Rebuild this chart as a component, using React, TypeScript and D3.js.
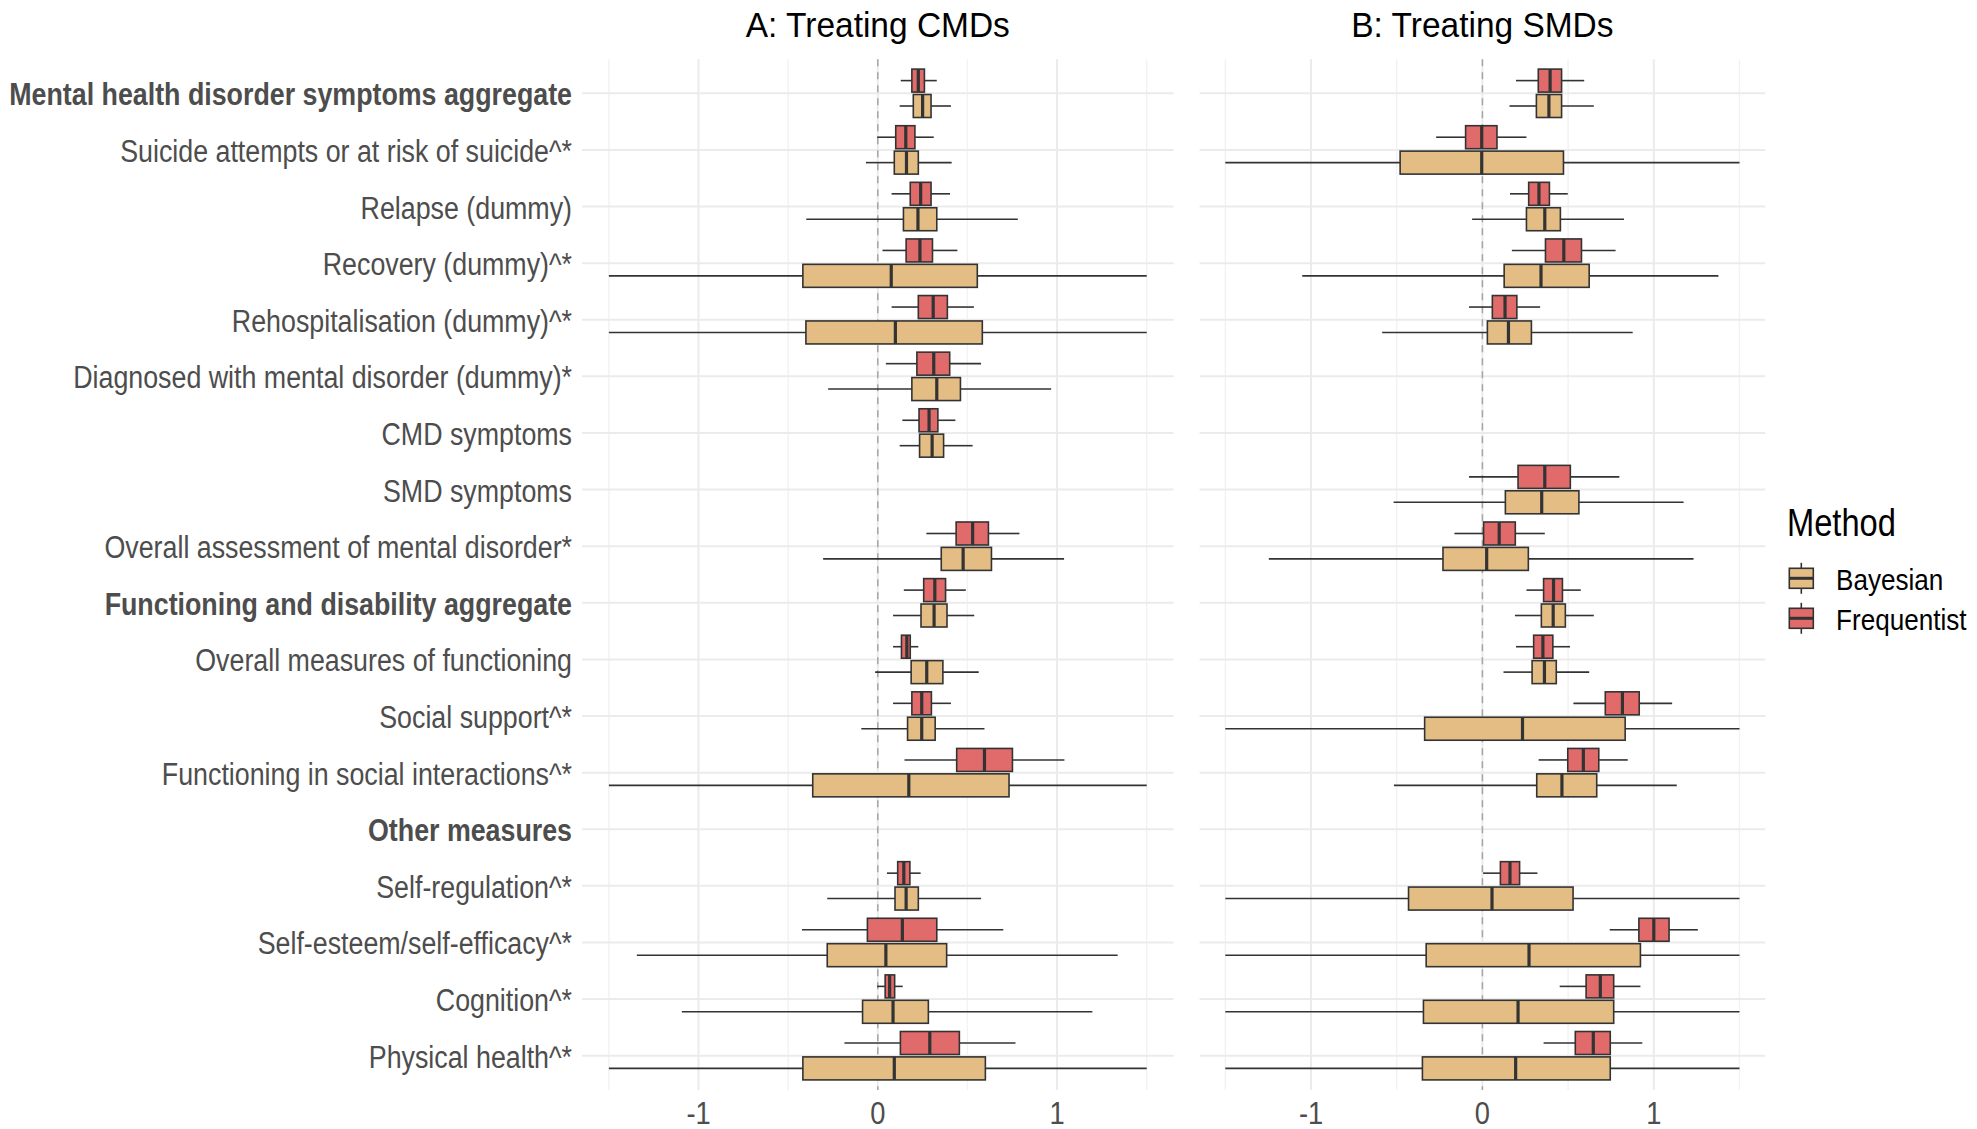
import React from "react";
import * as d3 from "d3";

type Box = [number, number, number, number, number] | null;

const categories: string[] = [
  "Mental health disorder symptoms aggregate",
  "Suicide attempts or at risk of suicide^*",
  "Relapse (dummy)",
  "Recovery (dummy)^*",
  "Rehospitalisation (dummy)^*",
  "Diagnosed with mental disorder (dummy)*",
  "CMD symptoms",
  "SMD symptoms",
  "Overall assessment of mental disorder*",
  "Functioning and disability aggregate",
  "Overall measures of functioning",
  "Social support^*",
  "Functioning in social interactions^*",
  "Other measures",
  "Self-regulation^*",
  "Self-esteem/self-efficacy^*",
  "Cognition^*",
  "Physical health^*",
];

const boldCategories: string[] = [
  "Mental health disorder symptoms aggregate",
  "Functioning and disability aggregate",
  "Other measures",
];

const methods: string[] = ["Frequentist", "Bayesian"];
const methodColors: string[] = ["#E16A6A", "#E3BD84"];
const legendOrder: string[] = ["Bayesian", "Frequentist"];

const panelTitles: string[] = ["A: Treating CMDs", "B: Treating SMDs"];
const xTicks: number[] = [-1, 0, 1];
const xMinor: number[] = [-1.5, -0.5, 0.5, 1.5];

// [lower whisker, Q1, median, Q3, upper whisker]
const cmdFrequentist: Box[] = [
  [0.128, 0.19, 0.226, 0.26, 0.329],
  [-0.004, 0.1, 0.156, 0.207, 0.312],
  [0.077, 0.181, 0.239, 0.297, 0.403],
  [0.026, 0.158, 0.235, 0.305, 0.444],
  [0.077, 0.226, 0.309, 0.388, 0.536],
  [0.045, 0.218, 0.312, 0.401, 0.576],
  [0.137, 0.23, 0.286, 0.335, 0.433],
  null,
  [0.271, 0.437, 0.529, 0.617, 0.79],
  [0.145, 0.256, 0.318, 0.378, 0.491],
  [0.085, 0.132, 0.162, 0.181, 0.226],
  [0.085, 0.19, 0.245, 0.299, 0.408],
  [0.149, 0.44, 0.595, 0.751, 1.041],
  null,
  [0.051, 0.111, 0.145, 0.179, 0.239],
  [-0.423, -0.058, 0.137, 0.329, 0.7],
  [-0.004, 0.041, 0.066, 0.094, 0.139],
  [-0.186, 0.126, 0.29, 0.455, 0.768],
];

const cmdBayesian: Box[] = [
  [0.122, 0.198, 0.25, 0.297, 0.408],
  [-0.066, 0.092, 0.16, 0.226, 0.412],
  [-0.399, 0.143, 0.224, 0.329, 0.781],
  [-1.5, -0.418, 0.075, 0.555, 1.5],
  [-1.5, -0.401, 0.098, 0.583, 1.5],
  [-0.277, 0.19, 0.329, 0.461, 0.967],
  [0.122, 0.233, 0.303, 0.367, 0.529],
  null,
  [-0.305, 0.354, 0.476, 0.634, 1.039],
  [0.085, 0.241, 0.314, 0.386, 0.538],
  [-0.015, 0.186, 0.273, 0.363, 0.563],
  [-0.092, 0.166, 0.245, 0.32, 0.595],
  [-1.5, -0.363, 0.173, 0.732, 1.5],
  null,
  [-0.282, 0.096, 0.158, 0.226, 0.576],
  [-1.344, -0.282, 0.045, 0.384, 1.338],
  [-1.093, -0.085, 0.085, 0.282, 1.197],
  [-1.5, -0.418, 0.092, 0.6, 1.5],
];

const smdFrequentist: Box[] = [
  [0.196, 0.326, 0.395, 0.462, 0.594],
  [-0.27, -0.098, -0.004, 0.085, 0.257],
  [0.161, 0.27, 0.33, 0.391, 0.498],
  [0.172, 0.368, 0.475, 0.578, 0.777],
  [-0.078, 0.058, 0.132, 0.201, 0.337],
  null,
  null,
  [-0.078, 0.208, 0.364, 0.513, 0.799],
  [-0.163, 0.007, 0.098, 0.192, 0.364],
  [0.257, 0.357, 0.415, 0.467, 0.574],
  [0.196, 0.299, 0.353, 0.411, 0.511],
  [0.531, 0.717, 0.817, 0.915, 1.107],
  [0.328, 0.498, 0.589, 0.679, 0.848],
  null,
  [0.004, 0.105, 0.161, 0.217, 0.321],
  [0.743, 0.913, 1.0, 1.089, 1.257],
  [0.451, 0.605, 0.688, 0.766, 0.922],
  [0.357, 0.542, 0.647, 0.746, 0.933],
];

const smdBayesian: Box[] = [
  [0.158, 0.315, 0.388, 0.462, 0.65],
  [-1.5, -0.48, -0.004, 0.473, 1.5],
  [-0.06, 0.257, 0.364, 0.455, 0.826],
  [-1.051, 0.127, 0.342, 0.623, 1.377],
  [-0.585, 0.029, 0.152, 0.286, 0.877],
  null,
  null,
  [-0.518, 0.134, 0.346, 0.563, 1.174],
  [-1.246, -0.23, 0.025, 0.268, 1.232],
  [0.19, 0.344, 0.413, 0.484, 0.65],
  [0.123, 0.29, 0.362, 0.431, 0.623],
  [-1.5, -0.337, 0.234, 0.833, 1.5],
  [-0.516, 0.317, 0.464, 0.667, 1.134],
  null,
  [-1.5, -0.431, 0.056, 0.529, 1.5],
  [-1.5, -0.328, 0.272, 0.922, 1.5],
  [-1.5, -0.344, 0.208, 0.766, 1.5],
  [-1.5, -0.35, 0.194, 0.746, 1.5],
];

const panelData: Box[][][] = [
  [cmdFrequentist, cmdBayesian],
  [smdFrequentist, smdBayesian],
];

const W = 1977;
const H = 1129;
const FONT = "'Liberation Sans', Arial, sans-serif";
const SQ = 0.87; // horizontal text compression in the reference
const TEXT_GREY = "#4D4D4D";
const OUTLINE = "#333333";

const panelRanges: [number, number][] = [
  [582, 1173.6],
  [1199.6, 1765.2],
];
const panelTop = 59.3;
const panelBottom = 1090;

export default function App() {
  const y = d3.scalePoint<string>().domain(categories).range([93.3, 1055.7]);
  const dodge = d3.scalePoint<string>().domain(methods).range([-12.7, 12.7]);
  const boxH = 23;

  const panels = panelRanges.map((r, pi) => {
    const x = d3.scaleLinear().domain([-1.65, 1.65]).range(r);
    const series = panelData[pi];
    return (
      <g key={pi}>
        {xMinor.map((t) => (
          <line key={"mn" + t} x1={x(t)} x2={x(t)} y1={panelTop} y2={panelBottom} stroke="#F2F2F2" strokeWidth={1.4} />
        ))}
        {xTicks.map((t) => (
          <line key={"mj" + t} x1={x(t)} x2={x(t)} y1={panelTop} y2={panelBottom} stroke="#EBEBEB" strokeWidth={2} />
        ))}
        {categories.map((c) => (
          <line key={"h" + c} x1={r[0]} x2={r[1]} y1={y(c)!} y2={y(c)!} stroke="#EBEBEB" strokeWidth={2} />
        ))}
        <line x1={x(0)} x2={x(0)} y1={panelTop} y2={panelBottom} stroke="#A6A6A6" strokeWidth={1.5} strokeDasharray="7,6" />
        {methods.map((m, mi) =>
          series[mi].map((b, ci) => {
            if (!b) return null;
            const cy = y(categories[ci])! + dodge(m)!;
            const [lo, q1, med, q3, hi] = b;
            return (
              <g key={m + ci}>
                <line x1={x(lo)} x2={x(q1)} y1={cy} y2={cy} stroke={OUTLINE} strokeWidth={1.6} />
                <line x1={x(q3)} x2={x(hi)} y1={cy} y2={cy} stroke={OUTLINE} strokeWidth={1.6} />
                <rect
                  x={x(q1)}
                  y={cy - boxH / 2}
                  width={x(q3) - x(q1)}
                  height={boxH}
                  fill={methodColors[mi]}
                  stroke={OUTLINE}
                  strokeWidth={1.6}
                />
                <line x1={x(med)} x2={x(med)} y1={cy - boxH / 2} y2={cy + boxH / 2} stroke={OUTLINE} strokeWidth={3.2} />
              </g>
            );
          })
        )}
        {xTicks.map((t) => (
          <text
            key={"t" + t}
            transform={`translate(${x(t)},1124) scale(0.88,1)`}
            textAnchor="middle"
            fontFamily={FONT}
            fontSize={31}
            fill={TEXT_GREY}
          >
            {t}
          </text>
        ))}
        <text
          transform={`translate(${(r[0] + r[1]) / 2},37) scale(0.93,1)`}
          textAnchor="middle"
          fontFamily={FONT}
          fontSize={36}
          fill="#000"
        >
          {panelTitles[pi]}
        </text>
      </g>
    );
  });

  return (
    <svg width={W} height={H} style={{ position: "absolute", left: 0, top: 0, display: "block", background: "#fff" }}>
      <rect x={0} y={0} width={W} height={H} fill="#fff" />
      {categories.map((c) => (
        <text
          key={"lab" + c}
          transform={`translate(572,${y(c)! + 12}) scale(${SQ},1)`}
          textAnchor="end"
          fontFamily={FONT}
          fontSize={30.8}
          fontWeight={boldCategories.includes(c) ? "bold" : "normal"}
          fill={TEXT_GREY}
        >
          {c}
        </text>
      ))}
      {panels}
      <g>
        <text transform={`translate(1787,536) scale(0.86,1)`} fontFamily={FONT} fontSize={38} fill="#000">
          Method
        </text>
        {legendOrder.map((m, i) => {
          const mi = methods.indexOf(m);
          const cy = 578.3 + i * 40;
          const cx = 1801.3;
          return (
            <g key={"lg" + m}>
              <line x1={cx} x2={cx} y1={cy - 15.5} y2={cy + 15.5} stroke={OUTLINE} strokeWidth={1.6} />
              <rect x={cx - 12} y={cy - 10} width={24} height={20} fill={methodColors[mi]} stroke={OUTLINE} strokeWidth={1.6} />
              <line x1={cx - 12} x2={cx + 12} y1={cy} y2={cy} stroke={OUTLINE} strokeWidth={3} />
              <text transform={`translate(1836,${cy + 12}) scale(0.87,1)`} fontFamily={FONT} fontSize={30} fill="#000">
                {m}
              </text>
            </g>
          );
        })}
      </g>
    </svg>
  );
}
